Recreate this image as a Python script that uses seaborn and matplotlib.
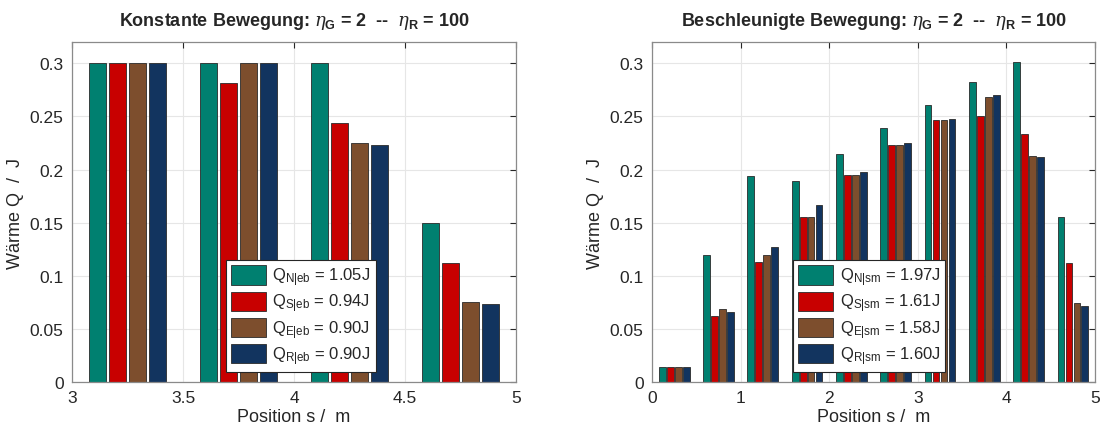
import numpy as np
import pandas as pd
import matplotlib
matplotlib.use('Agg')
import matplotlib.pyplot as plt
import seaborn as sns

# Positionen (Gruppenmitte) und Wärme je Methode
pos_eb = [3.25, 3.75, 4.25, 4.75]
q_n_eb = [0.300, 0.300, 0.300, 0.150]
q_s_eb = [0.300, 0.281, 0.244, 0.112]
q_e_eb = [0.300, 0.300, 0.225, 0.075]
q_r_eb = [0.300, 0.300, 0.223, 0.073]

pos_sm = [0.25, 0.75, 1.25, 1.75, 2.25, 2.75, 3.25, 3.75, 4.25, 4.75]
q_n_sm = [0.014, 0.120, 0.194, 0.189, 0.215, 0.239, 0.261, 0.282, 0.301, 0.155]
q_s_sm = [0.014, 0.062, 0.113, 0.155, 0.195, 0.223, 0.247, 0.250, 0.233, 0.112]
q_e_sm = [0.014, 0.069, 0.120, 0.155, 0.195, 0.223, 0.247, 0.268, 0.213, 0.074]
q_r_sm = [0.014, 0.066, 0.127, 0.167, 0.198, 0.225, 0.248, 0.270, 0.212, 0.072]

methods = ['N', 'S', 'E', 'R']
sum_eb = ['1.05', '0.94', '0.90', '0.90']
sum_sm = ['1.97', '1.61', '1.58', '1.60']
colors = ['#008070', '#C80000', '#7D4E2D', '#12345F']

sns.set_style('white')
plt.rcParams['font.family'] = ['Liberation Sans', 'DejaVu Sans']
plt.rcParams['mathtext.fontset'] = 'custom'
plt.rcParams['mathtext.rm'] = 'Liberation Sans'
plt.rcParams['mathtext.it'] = 'DejaVu Serif:italic'
plt.rcParams['mathtext.bf'] = 'Liberation Sans:bold'


def long_df(pos, series):
    rows = []
    for m, vals in zip(methods, series):
        for p, v in zip(pos, vals):
            rows.append({'pos': p, 'method': m, 'Q': v})
    return pd.DataFrame(rows)


df_eb = long_df(pos_eb, [q_n_eb, q_s_eb, q_e_eb, q_r_eb])
df_sm = long_df(pos_sm, [q_n_sm, q_s_sm, q_e_sm, q_r_sm])

fig, axes = plt.subplots(1, 2, figsize=(11.02, 4.35), dpi=100)
axes[0].set_position([0.0653, 0.1195, 0.4030, 0.7816])
axes[1].set_position([0.5917, 0.1195, 0.4020, 0.7816])

setups = [
    (axes[0], df_eb, 'eb', sum_eb, (3, 5), [3, 3.5, 4, 4.5, 5], ['3', '3.5', '4', '4.5', '5'],
     r'Konstante Bewegung: $\eta_\mathbf{G}$ = 2  --  $\eta_\mathbf{R}$ = 100', 0.684),
    (axes[1], df_sm, 'sm', sum_sm, (0, 5), [0, 1, 2, 3, 4, 5], ['0', '1', '2', '3', '4', '5'],
     r'Beschleunigte Bewegung: $\eta_\mathbf{G}$ = 2  --  $\eta_\mathbf{R}$ = 100', 0.662),
]

for ax, df, tag, sums, xlim, xt, xtl, title, lx in setups:
    sns.barplot(data=df, x='pos', y='Q', hue='method', hue_order=methods,
                palette=colors, native_scale=True, width=0.72, gap=0.15,
                edgecolor='#2a2a2a', linewidth=0.6, saturation=1, ax=ax,
                errorbar=None)
    ax.set_xlim(*xlim)
    ax.set_ylim(0, 0.32)
    ax.set_xticks(xt)
    ax.set_xticklabels(xtl)
    ax.set_yticks([0, 0.05, 0.1, 0.15, 0.2, 0.25, 0.3])
    ax.set_yticklabels(['0', '0.05', '0.1', '0.15', '0.2', '0.25', '0.3'])
    ax.grid(True, color='#e6e6e6', linewidth=0.8)
    ax.set_axisbelow(True)
    ax.tick_params(direction='in', length=4, width=0.8, colors='#262626',
                   labelsize=12.5, top=True, right=True, pad=6)
    for sp in ax.spines.values():
        sp.set_color('#8a8a8a')
        sp.set_linewidth(0.9)
    ax.set_xlabel('Position s /  m', fontsize=13, color='#262626', labelpad=2)
    ax.set_ylabel('Wärme Q  /  J', fontsize=13, color='#262626', labelpad=4)
    ax.set_title(title, fontsize=13, fontweight='bold', pad=12)

    handles, _ = ax.get_legend_handles_labels()
    labels = [r'Q$_{\mathrm{%s|%s}}$ = %sJ' % (m, tag, s) for m, s in zip(methods, sums)]
    leg = ax.legend(handles, labels, loc='lower right', bbox_to_anchor=(lx, 0.03),
                    fontsize=12, handlelength=2.1, handleheight=1.4,
                    handletextpad=0.4, labelspacing=0.2, borderpad=0.3,
                    borderaxespad=0, fancybox=False, framealpha=1,
                    edgecolor='#262626')
    leg.get_frame().set_linewidth(0.8)

plt.savefig('out.png', dpi=100)
